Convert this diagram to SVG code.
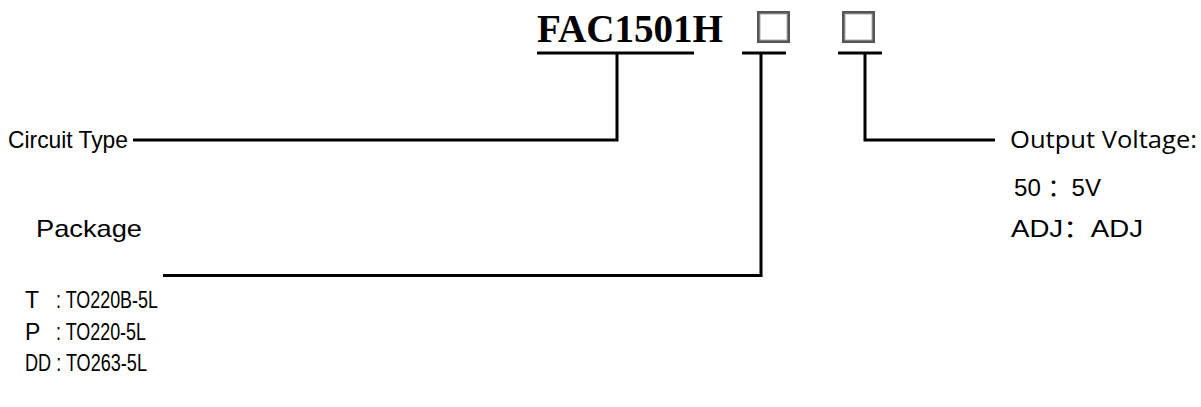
<svg xmlns="http://www.w3.org/2000/svg" width="1201" height="407" viewBox="0 0 1201 407">
<style>
.t{font-family:"Liberation Sans",Arial,"Noto Sans CJK SC",sans-serif;font-size:24px;fill:#000}
.n{font-family:"Liberation Sans",Arial,sans-serif;font-size:23px;fill:#000}
.ov{font-family:"Open Sans","Noto Sans",sans-serif;font-size:24px;fill:#000}
.title{font-family:"Liberation Serif","Times New Roman",serif;font-weight:bold;font-size:40px;fill:#000}
.box{fill:#fff;stroke:#555;stroke-width:3}
.boxin{fill:none;stroke:#aaa;stroke-width:1}
.ln{fill:none;stroke:#000;stroke-width:3}
</style>
<rect width="1201" height="407" fill="#fff"/>
<g id="part-number">
<text class="title" x="537" y="42" textLength="186" lengthAdjust="spacingAndGlyphs">FAC1501H</text>
<rect class="box" x="758.5" y="12.5" width="30" height="29"/>
<rect class="boxin" x="760" y="14" width="27" height="26"/>
<rect class="box" x="843.5" y="12.5" width="30" height="29"/>
<rect class="boxin" x="845" y="14" width="27" height="26"/>
</g>
<g id="circuit-type">
<text class="t" x="8" y="148" textLength="120" lengthAdjust="spacingAndGlyphs">Circuit Type</text>
</g>
<g id="package">
<text class="t" x="36" y="237" textLength="106" lengthAdjust="spacingAndGlyphs">Package</text>
<text class="n" x="25" y="308">T</text>
<text class="n" x="56" y="308" textLength="102" lengthAdjust="spacingAndGlyphs">: TO220B-5L</text>
<text class="n" x="25" y="340">P</text>
<text class="n" x="56" y="340" textLength="90" lengthAdjust="spacingAndGlyphs">: TO220-5L</text>
<text class="n" x="25" y="371" textLength="122" lengthAdjust="spacingAndGlyphs">DD : TO263-5L</text>
</g>
<g id="output-voltage">
<text class="ov" x="1010" y="148" textLength="187" lengthAdjust="spacingAndGlyphs">Output Voltage:</text>
<text class="t" x="1014" y="196" textLength="87" lengthAdjust="spacingAndGlyphs">50 ：5V</text>
<text class="t" x="1011" y="237" textLength="132" lengthAdjust="spacingAndGlyphs">ADJ：ADJ</text>
</g>
<g id="connectors">
<path class="ln" d="M537,53 H694 M617,53 V140 H133"/>
<path class="ln" d="M742,53 H786 M761,53 V275.5 H163"/>
<path class="ln" d="M838,53 H882 M865,53 V140 H995"/>
</g>
</svg>
